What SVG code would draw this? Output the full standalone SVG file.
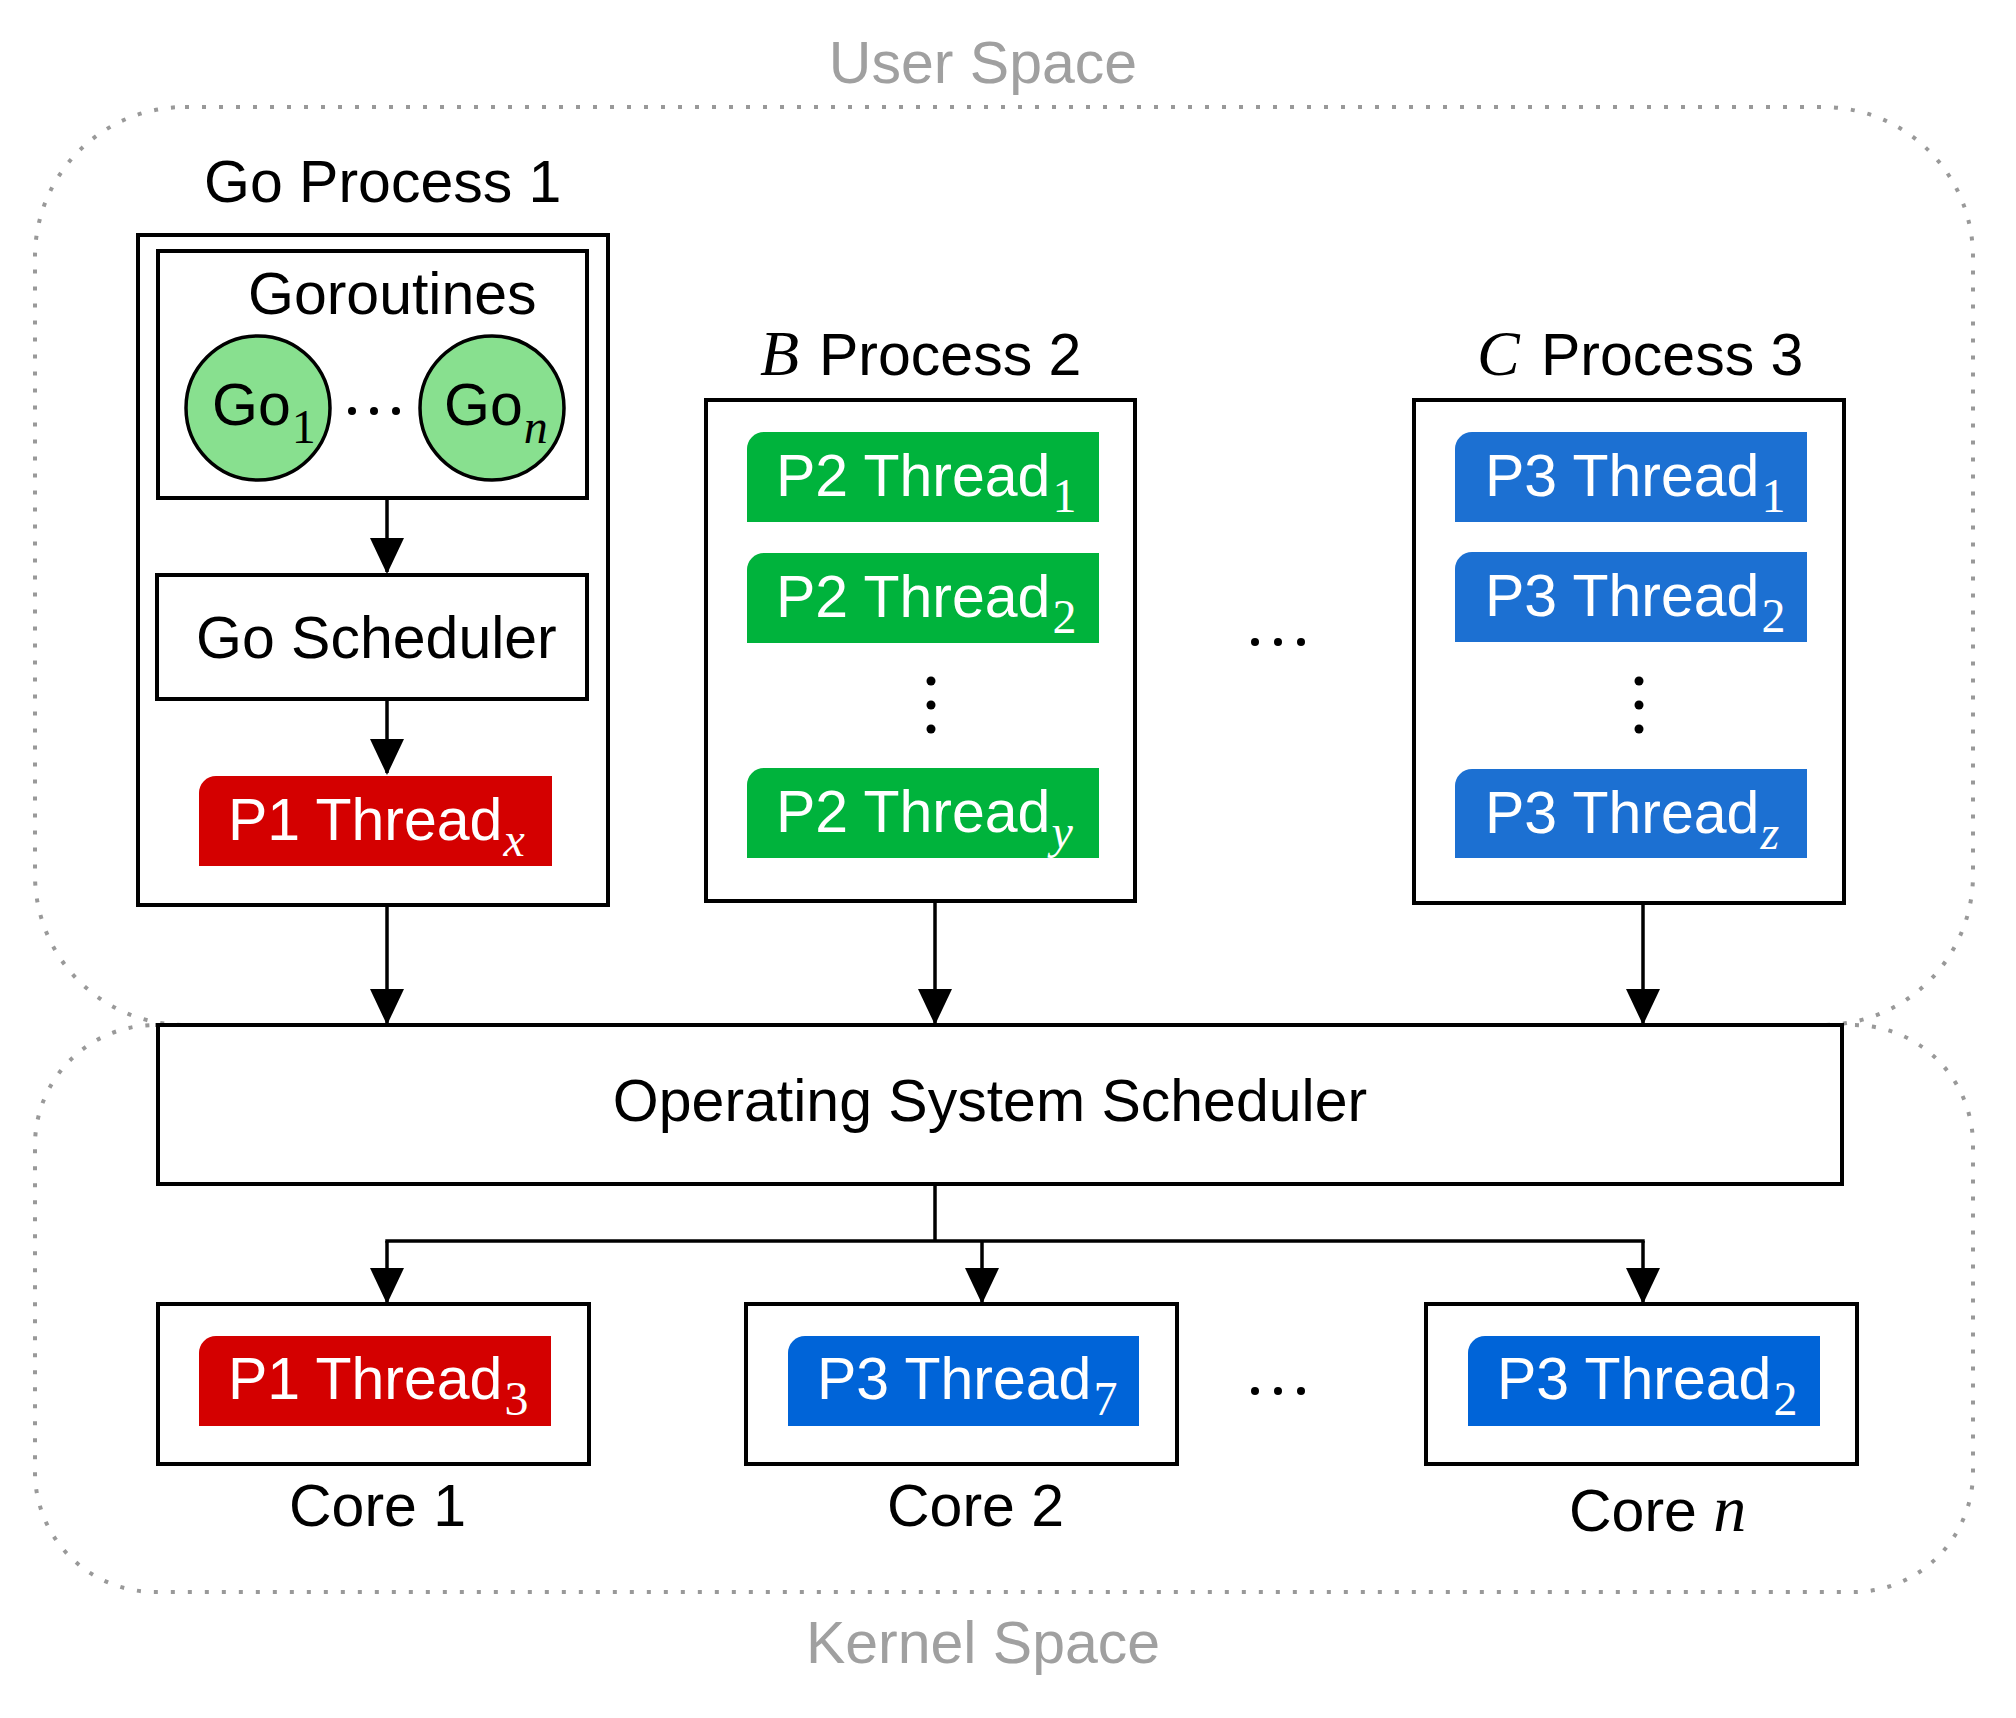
<svg xmlns="http://www.w3.org/2000/svg" width="2016" height="1718" viewBox="0 0 2016 1718">
<style>
text{font-family:"Liberation Sans",Arial,sans-serif;font-size:59px;fill:#000}
.w{fill:#fff}
.gray{fill:#a0a0a0;text-anchor:middle}
.mi{font-family:"Liberation Serif","Times New Roman",serif;font-style:italic}
.sub{font-family:"Liberation Serif","Times New Roman",serif;font-size:48px}
.box{fill:#fff;stroke:#000;stroke-width:4}
.zone{fill:none;stroke:#999;stroke-width:4;stroke-dasharray:4 13}
.red{fill:#d40000}
.grn{fill:#00b33c}
.blu{fill:#1c70d2}
.blu2{fill:#0064d8}
.go{fill:#88e08f;stroke:#000;stroke-width:3.5}
.conn path{fill:none;stroke:#000;stroke-width:3.5}
.dot{fill:#000}
</style>
<defs>
<marker id="ah" markerUnits="userSpaceOnUse" markerWidth="36" markerHeight="34" viewBox="0 0 36 34" refX="34" refY="17" orient="auto">
<path d="M0,0 L36,17 L0,34 Z" fill="#000"/>
</marker>
</defs>

<g id="user-space">
<rect class="zone" x="35" y="107" width="1938" height="918" rx="150" ry="150"/>
<text class="gray" x="983" y="83">User Space</text>
</g>
<g id="kernel-space">
<rect class="zone" x="35" y="1025" width="1938" height="567" rx="120" ry="120"/>
<text class="gray" x="983" y="1663">Kernel Space</text>
</g>

<g id="go-process-1">
<text x="204" y="202">Go Process 1</text>
<rect class="box" x="138" y="235" width="470" height="670"/>
</g>
<g id="goroutines">
<rect class="box" x="158" y="251" width="429" height="247"/>
<text x="248" y="314">Goroutines</text>
</g>
<g id="go-1">
<circle class="go" cx="258" cy="408" r="72"/>
<text x="212" y="425">Go<tspan class="sub" dx="1" dy="18">1</tspan></text>
</g>
<g id="go-dots">
<circle class="dot" cx="352" cy="411" r="4"/>
<circle class="dot" cx="374" cy="411" r="4"/>
<circle class="dot" cx="396" cy="411" r="4"/>
</g>
<g id="go-n">
<circle class="go" cx="492" cy="408" r="72"/>
<text x="444" y="425">Go<tspan class="sub mi" dx="1" dy="18">n</tspan></text>
</g>
<g id="go-scheduler">
<rect class="box" x="157" y="575" width="430" height="124"/>
<text x="196" y="658">Go Scheduler</text>
</g>
<g id="p1-thread-x">
<path class="red" d="M216,776 H552 V866 H199 V793 A17,17 0 0 1 216,776 Z"/>
<text class="w" x="228" y="840">P1 Thread<tspan class="sub mi w" dx="1" dy="16">x</tspan></text>
</g>

<g id="process-2">
<text x="760" y="375"><tspan class="mi" font-size="64">B</tspan><tspan x="819">Process 2</tspan></text>
<rect class="box" x="706" y="400" width="429" height="501"/>
</g>
<g id="p2-thread-1">
<path class="grn" d="M764,432 H1099 V522 H747 V449 A17,17 0 0 1 764,432 Z"/>
<text class="w" x="776" y="496">P2 Thread<tspan class="sub w" dx="2" dy="16">1</tspan></text>
</g>
<g id="p2-thread-2">
<path class="grn" d="M764,553 H1099 V643 H747 V570 A17,17 0 0 1 764,553 Z"/>
<text class="w" x="776" y="617">P2 Thread<tspan class="sub w" dx="2" dy="16">2</tspan></text>
</g>
<g id="p2-vdots">
<circle class="dot" cx="931" cy="681" r="4.5"/>
<circle class="dot" cx="931" cy="705" r="4.5"/>
<circle class="dot" cx="931" cy="729" r="4.5"/>
</g>
<g id="p2-thread-y">
<path class="grn" d="M764,768 H1099 V858 H747 V785 A17,17 0 0 1 764,768 Z"/>
<text class="w" x="776" y="832">P2 Thread<tspan class="sub mi w" dx="1" dy="16">y</tspan></text>
</g>

<g id="process-dots">
<circle class="dot" cx="1255" cy="642" r="4"/>
<circle class="dot" cx="1278" cy="642" r="4"/>
<circle class="dot" cx="1301" cy="642" r="4"/>
</g>

<g id="process-3">
<text x="1477" y="375"><tspan class="mi" font-size="64">C</tspan><tspan x="1541">Process 3</tspan></text>
<rect class="box" x="1414" y="400" width="430" height="503"/>
</g>
<g id="p3-thread-1">
<path class="blu" d="M1472,432 H1807 V522 H1455 V449 A17,17 0 0 1 1472,432 Z"/>
<text class="w" x="1485" y="496">P3 Thread<tspan class="sub w" dx="2" dy="16">1</tspan></text>
</g>
<g id="p3-thread-2">
<path class="blu" d="M1472,552 H1807 V642 H1455 V569 A17,17 0 0 1 1472,552 Z"/>
<text class="w" x="1485" y="616">P3 Thread<tspan class="sub w" dx="2" dy="16">2</tspan></text>
</g>
<g id="p3-vdots">
<circle class="dot" cx="1639" cy="681" r="4.5"/>
<circle class="dot" cx="1639" cy="705" r="4.5"/>
<circle class="dot" cx="1639" cy="729" r="4.5"/>
</g>
<g id="p3-thread-z">
<path class="blu" d="M1472,769 H1807 V858 H1455 V786 A17,17 0 0 1 1472,769 Z"/>
<text class="w" x="1485" y="833">P3 Thread<tspan class="sub mi w" dx="1" dy="16">z</tspan></text>
</g>

<g id="os-scheduler">
<rect class="box" x="158" y="1025" width="1684" height="159"/>
<text x="990" y="1121" text-anchor="middle">Operating System Scheduler</text>
</g>

<g id="core-1">
<rect class="box" x="158" y="1304" width="431" height="160"/>
<path class="red" d="M216,1336 H551 V1426 H199 V1353 A17,17 0 0 1 216,1336 Z"/>
<text class="w" x="228" y="1399">P1 Thread<tspan class="sub w" dx="2" dy="16">3</tspan></text>
<text x="289" y="1526">Core 1</text>
</g>
<g id="core-2">
<rect class="box" x="746" y="1304" width="431" height="160"/>
<path class="blu2" d="M805,1336 H1139 V1426 H788 V1353 A17,17 0 0 1 805,1336 Z"/>
<text class="w" x="817" y="1399">P3 Thread<tspan class="sub w" dx="2" dy="16">7</tspan></text>
<text x="887" y="1526">Core 2</text>
</g>
<g id="core-dots">
<circle class="dot" cx="1255" cy="1391" r="4"/>
<circle class="dot" cx="1278" cy="1391" r="4"/>
<circle class="dot" cx="1301" cy="1391" r="4"/>
</g>
<g id="core-n">
<rect class="box" x="1426" y="1304" width="431" height="160"/>
<path class="blu2" d="M1485,1336 H1820 V1426 H1468 V1353 A17,17 0 0 1 1485,1336 Z"/>
<text class="w" x="1497" y="1399">P3 Thread<tspan class="sub w" dx="2" dy="16">2</tspan></text>
<text x="1569" y="1531">Core <tspan class="mi" font-size="66">n</tspan></text>
</g>

<g class="conn" id="connectors">
<path d="M387,498 V572" marker-end="url(#ah)"/>
<path d="M387,699 V773" marker-end="url(#ah)"/>
<path d="M387,905 V1023" marker-end="url(#ah)"/>
<path d="M935,901 V1023" marker-end="url(#ah)"/>
<path d="M1643,903 V1023" marker-end="url(#ah)"/>
<path d="M935,1184 V1241"/>
<path d="M385.3,1241 H1644.7"/>
<path d="M387,1241 V1302" marker-end="url(#ah)"/>
<path d="M982,1241 V1302" marker-end="url(#ah)"/>
<path d="M1643,1241 V1302" marker-end="url(#ah)"/>
</g>
</svg>
